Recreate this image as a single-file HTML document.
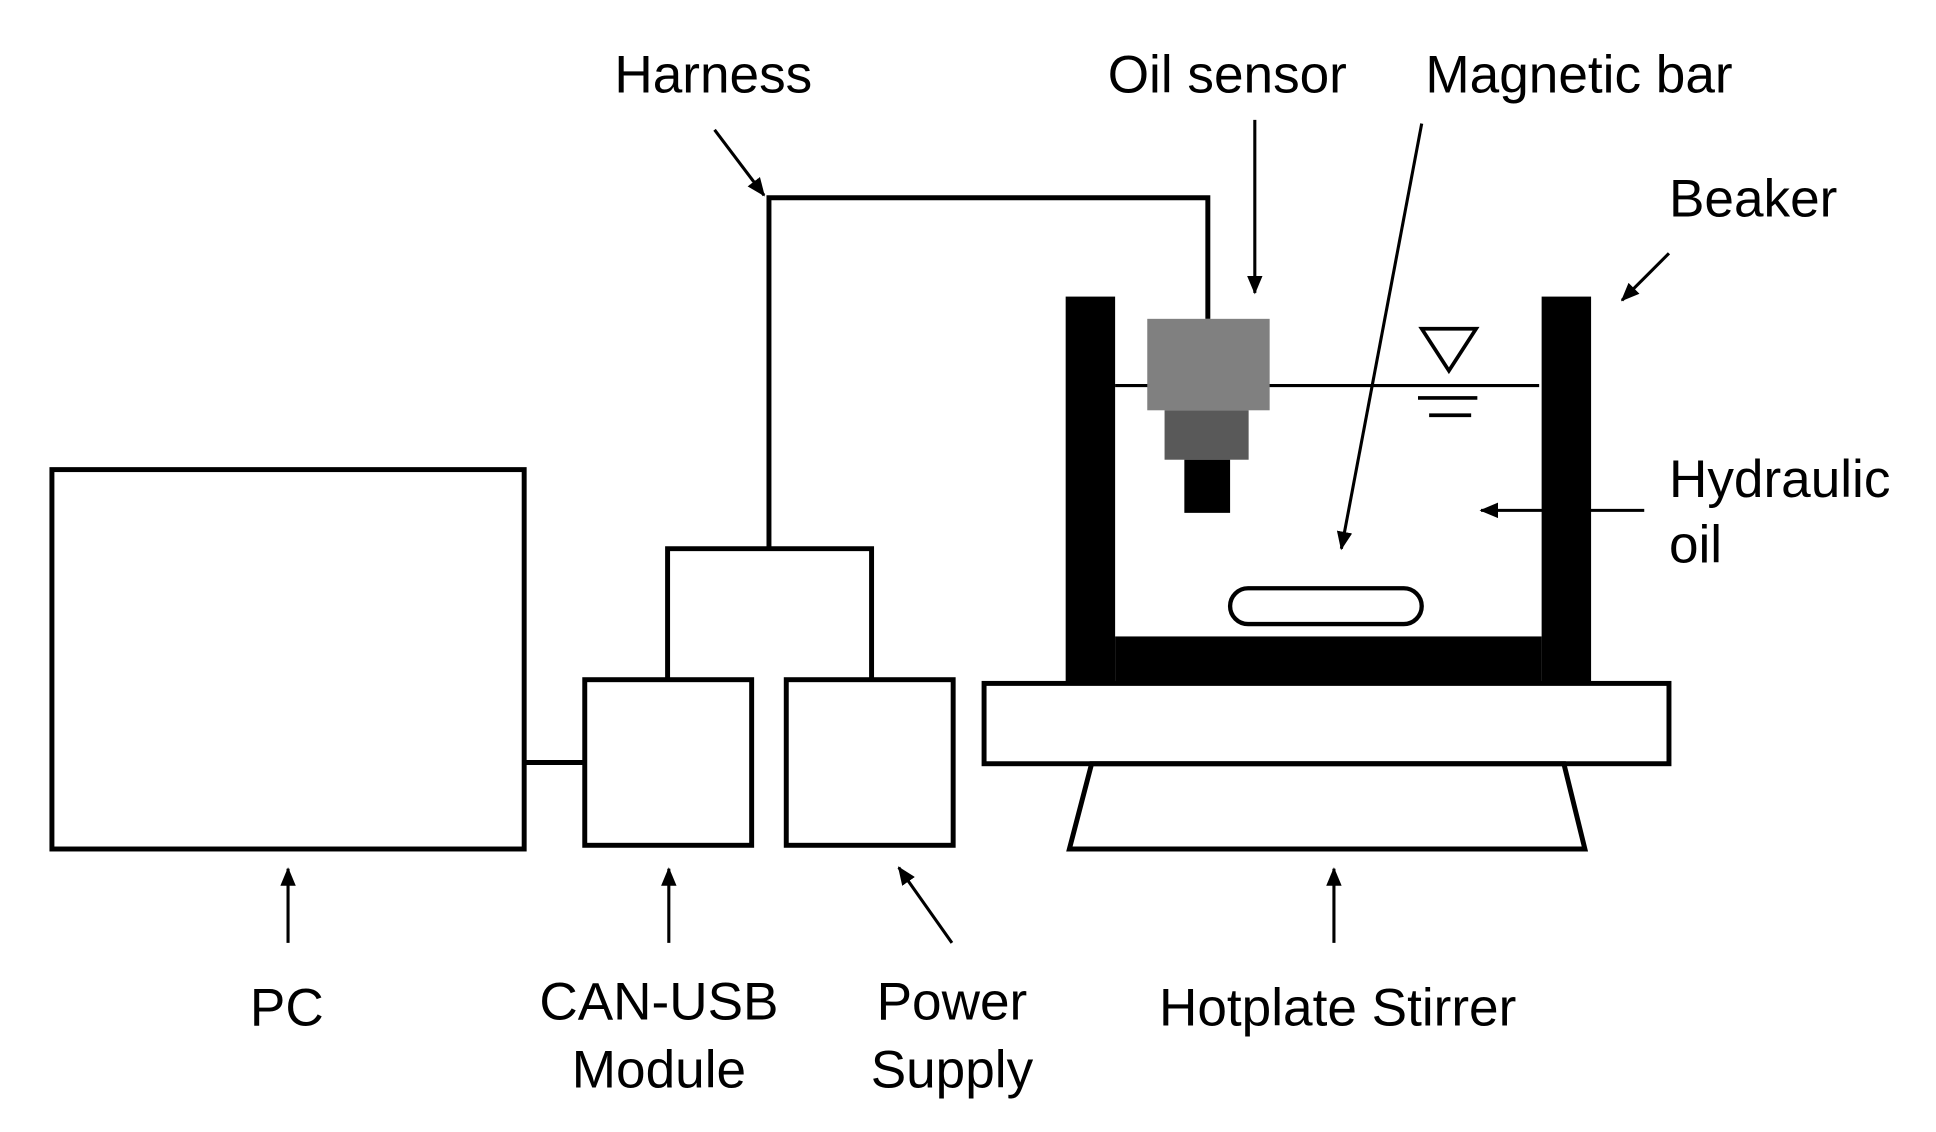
<!DOCTYPE html>
<html><head><meta charset="utf-8"><style>
html,body{margin:0;padding:0;background:#fff;}
svg{display:block;}
text{font-family:"Liberation Sans",Arial,sans-serif;font-size:43px;fill:#000;}
</style></head><body>
<svg width="1936" height="1132" viewBox="0 0 1566 916" preserveAspectRatio="none" xmlns="http://www.w3.org/2000/svg">
<defs>
<marker id="a" viewBox="0 0 12 10" refX="11" refY="5" markerWidth="6" markerHeight="5" orient="auto"><path d="M0,0 L12,5 L0,10 z" fill="#000"/></marker>
</defs>
<rect width="1566" height="916" fill="#fff"/>
<g fill="none" stroke="#000" stroke-width="4">
<rect x="42" y="380" width="382" height="307"/>
<line x1="424" y1="617" x2="473" y2="617"/>
<rect x="473" y="550" width="135" height="134"/>
<rect x="636" y="550" width="135" height="134"/>
<polyline points="540,550 540,444 705,444 705,550"/>
<polyline points="622,444 622,160 977,160 977,258"/>
<rect x="796" y="553" width="554" height="65"/>
<polygon points="883,618 1265,618 1282,687 865,687"/>
<rect x="995" y="476" width="155" height="29" rx="14.5" stroke-width="3.5"/>
</g>
<g stroke="#000" stroke-width="2.5" fill="none">
<line x1="902" y1="312" x2="1245" y2="312"/>
<polygon points="1150,266 1194,266 1172,300" stroke-width="3"/>
<line x1="1147" y1="322" x2="1195" y2="322" stroke-width="3"/>
<line x1="1156" y1="336" x2="1190" y2="336" stroke-width="3"/>
</g>
<g fill="#000">
<rect x="862" y="240" width="40" height="313"/>
<rect x="902" y="515" width="345" height="38"/>
<rect x="1247" y="240" width="40" height="313"/>
</g>
<rect x="928" y="258" width="99" height="74" fill="#808080"/>
<rect x="942" y="332" width="68" height="40" fill="#595959"/>
<rect x="958" y="372" width="37" height="43" fill="#000"/>
<g stroke="#000" stroke-width="2.5" marker-end="url(#a)">
<line x1="578" y1="105" x2="618" y2="158"/>
<line x1="1015" y1="97" x2="1015" y2="237"/>
<line x1="1150" y1="100" x2="1085" y2="444"/>
<line x1="1350" y1="205" x2="1312" y2="243"/>
<line x1="1330" y1="413" x2="1198" y2="413"/>
<line x1="233" y1="763" x2="233" y2="703"/>
<line x1="541" y1="763" x2="541" y2="703"/>
<line x1="770" y1="763" x2="727" y2="702"/>
<line x1="1079" y1="763" x2="1079" y2="703"/>
</g>
<text x="577" y="75" text-anchor="middle">Harness</text>
<text x="896" y="75">Oil sensor</text>
<text x="1153" y="75">Magnetic bar</text>
<text x="1350" y="175">Beaker</text>
<text x="1350" y="402">Hydraulic</text>
<text x="1350" y="455">oil</text>
<text x="232" y="830" text-anchor="middle">PC</text>
<text x="533" y="825" text-anchor="middle">CAN-USB</text>
<text x="533" y="880" text-anchor="middle">Module</text>
<text x="770" y="825" text-anchor="middle">Power</text>
<text x="770" y="880" text-anchor="middle">Supply</text>
<text x="1082" y="830" text-anchor="middle">Hotplate Stirrer</text>
</svg>
</body></html>
